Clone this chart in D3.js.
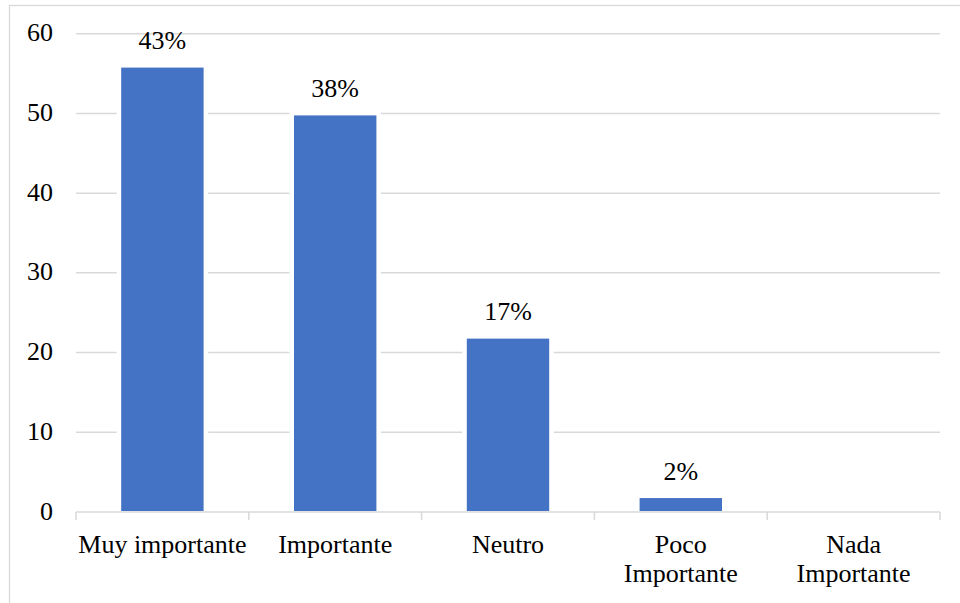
<!DOCTYPE html>
<html>
<head>
<meta charset="utf-8">
<script src="https://cdn.jsdelivr.net/npm/d3@7"></script>
<style>
  html, body { margin: 0; padding: 0; background: #fff; }
  svg { display: block; }
</style>
</head>
<body>
<svg id="chart" width="960" height="603"></svg>
<script>
const categories = [["Muy importante"], ["Importante"], ["Neutro"], ["Poco", "Importante"], ["Nada", "Importante"]];
const values = [56, 50, 22, 2, 0];
const labels = ["43%", "38%", "17%", "2%", null];
const yTicks = [0, 10, 20, 30, 40, 50, 60];

const FONT = "'Liberation Serif', 'Times New Roman', 'DejaVu Serif', serif";
const FS = "26px";
const svg = d3.select("#chart");
const plot = { left: 76, right: 940, top: 33.7, bottom: 512 };

// outer chart border
svg.append("rect").attr("x", 9.5).attr("y", 5.5).attr("width", 1000).attr("height", 700)
  .attr("fill", "#fff").attr("stroke", "#d9d9d9").attr("stroke-width", 1.25);

const x = d3.scaleBand().domain(d3.range(categories.length))
  .range([plot.left, plot.right]).paddingInner(0.5).paddingOuter(0.25);
const xb = d3.scaleBand().domain(d3.range(categories.length))
  .range([plot.left, plot.right]).padding(0);
const y = d3.scaleLinear().domain([0, 60]).range([plot.bottom, plot.top]);

// gridlines
svg.append("g").selectAll("line").data(yTicks.filter(d => d > 0)).join("line")
  .attr("x1", plot.left).attr("x2", plot.right)
  .attr("y1", d => y(d)).attr("y2", d => y(d))
  .attr("stroke", "#d9d9d9").attr("stroke-width", 1.5);

// y axis labels
svg.append("g").selectAll("text").data(yTicks).join("text")
  .style("font-family", FONT).style("font-size", FS)
  .attr("x", 53).attr("y", d => y(d) + 7.5)
  .attr("text-anchor", "end").text(d => d);

// white halo behind bars (cuts gridlines)
svg.append("g").selectAll("rect").data(values).join("rect")
  .attr("x", (d, i) => x(i) - 2.5).attr("width", x.bandwidth() + 5)
  .attr("y", d => y(d) - 2.5).attr("height", d => d > 0 ? y(0) - y(d) + 2.5 : 0)
  .attr("fill", "#fff");

// bars (white outline inside the band)
svg.append("g").selectAll("rect").data(values).join("rect")
  .attr("x", (d, i) => x(i) + 2).attr("width", x.bandwidth() - 4)
  .attr("y", d => y(d) + 2).attr("height", d => d > 0 ? y(0) - y(d) - 3 : 0)
  .attr("fill", "#4472C4");

// x axis line and ticks
svg.append("line").attr("x1", plot.left).attr("x2", plot.right)
  .attr("y1", plot.bottom).attr("y2", plot.bottom)
  .attr("stroke", "#d9d9d9").attr("stroke-width", 1.5);
const bounds = d3.range(categories.length).map(i => xb(i)).concat([plot.right]);
svg.append("g").selectAll("line").data(bounds).join("line")
  .attr("x1", d => d).attr("x2", d => d)
  .attr("y1", plot.bottom).attr("y2", plot.bottom + 8)
  .attr("stroke", "#d9d9d9").attr("stroke-width", 1.5);

// category labels
const cat = svg.append("g").selectAll("text").data(categories).join("text")
  .style("font-family", FONT).style("font-size", FS)
  .attr("text-anchor", "middle")
  .attr("x", (d, i) => xb(i) + xb.bandwidth() / 2)
  .attr("y", 553);
cat.selectAll("tspan").data(d => d).join("tspan")
  .attr("x", function() { return d3.select(this.parentNode).attr("x"); })
  .attr("dy", (d, j) => j === 0 ? 0 : 28.5)
  .text(d => d);

// data labels
svg.append("g").selectAll("text").data(values.map((v, i) => ({ v, i, l: labels[i] })).filter(d => d.l))
  .join("text")
  .style("font-family", FONT).style("font-size", FS)
  .attr("text-anchor", "middle")
  .attr("x", d => x(d.i) + x.bandwidth() / 2)
  .attr("y", d => y(d.v) - 16.5)
  .text(d => d.l);
</script>
</body>
</html>
